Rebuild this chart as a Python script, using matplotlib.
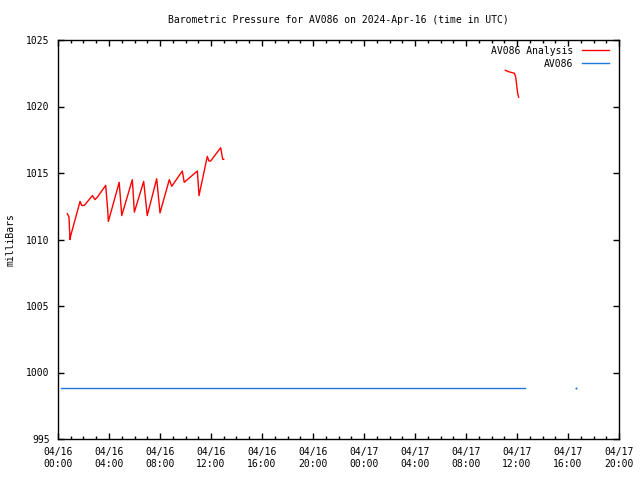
import numpy as np
import pandas as pd
import matplotlib
matplotlib.use("Agg")
import matplotlib.pyplot as plt
import matplotlib.dates as mdates
from matplotlib.ticker import MultipleLocator

# Data (hours after 2024-04-16 00:00 UTC, millibars)
analysis_hours_1 = [0.73, 0.86, 0.94, 1.0, 1.73, 1.86, 2.06, 2.7, 2.9, 3.1, 3.74,
                    3.9, 3.95, 4.8, 5.0, 5.83, 5.99, 6.72, 7.0, 7.74, 8.0, 8.73,
                    8.92, 9.75, 9.9, 10.93, 11.06, 11.71, 11.84, 11.97, 12.76,
                    12.92, 13.0]
analysis_mb_1 = [1011.94, 1011.7, 1010.0, 1010.3, 1012.86, 1012.56, 1012.56,
                 1013.3, 1013.0, 1013.2, 1014.07, 1012.2, 1011.36, 1014.3,
                 1011.8, 1014.5, 1012.06, 1014.37, 1011.8, 1014.57, 1012.0,
                 1014.5, 1014.0, 1015.15, 1014.3, 1015.15, 1013.3, 1016.25,
                 1015.9, 1015.9, 1016.9, 1016.03, 1016.03]

analysis_hours_2 = [35.08, 35.4, 35.8, 35.9, 36.05, 36.13]
analysis_mb_2 = [1022.72, 1022.6, 1022.5, 1022.2, 1021.0, 1020.7]

obs_hours = [0.25, 12.0, 24.0, 36.6]
obs_mb = [998.8, 998.8, 998.8, 998.8]
obs_dot_hours = [40.6]
obs_dot_mb = [998.8]

start = pd.Timestamp("2024-04-16 00:00")


def to_time(hours):
    return [start + pd.Timedelta(hours=h) for h in hours]


plt.rcParams['font.family'] = 'DejaVu Sans Mono'
plt.rcParams['font.size'] = 7

fig = plt.figure(figsize=(6.4, 4.8), dpi=100)
ax = fig.add_axes([58 / 640, 1 - 439 / 480, (619 - 58) / 640, (439 - 40) / 480])

red = '#ff0000'
blue = '#1e78dc'

ax.plot(to_time(analysis_hours_1), analysis_mb_1, color=red, lw=1.0,
        label='AV086 Analysis')
ax.plot(to_time(analysis_hours_2), analysis_mb_2, color=red, lw=1.0)
ax.plot(to_time(obs_hours), obs_mb, color=blue, lw=1.0, label='AV086')
ax.plot(to_time(obs_dot_hours), obs_dot_mb, color=blue, marker='s',
        markersize=0.5, lw=0)

ax.set_xlim(start, start + pd.Timedelta(hours=44))
ax.set_ylim(995, 1025)
ax.xaxis.set_major_locator(mdates.HourLocator(byhour=range(0, 24, 4)))
ax.xaxis.set_minor_locator(mdates.HourLocator())
ax.xaxis.set_major_formatter(mdates.DateFormatter('%m/%d\n%H:%M'))
ax.yaxis.set_major_locator(MultipleLocator(5))

ax.tick_params(which='both', direction='in', top=True, right=True, width=1,
               labelsize=7, color='black')
ax.tick_params(which='major', length=4, pad=6)
ax.tick_params(which='minor', length=2)
for lbl in ax.get_xticklabels():
    lbl.set_horizontalalignment('center')
for s in ax.spines.values():
    s.set_linewidth(1)

ax.set_title('Barometric Pressure for AV086 on 2024-Apr-16 (time in UTC)',
             fontsize=7, pad=12)
ax.set_ylabel('milliBars', fontsize=7, labelpad=8)

ax.legend(loc='upper right', bbox_to_anchor=(0.993, 1.0), markerfirst=False,
          frameon=False, fontsize=7, handlelength=2.8, handletextpad=0.9,
          labelspacing=0.3, borderaxespad=0.2)

fig.savefig('out.png', dpi=100)
